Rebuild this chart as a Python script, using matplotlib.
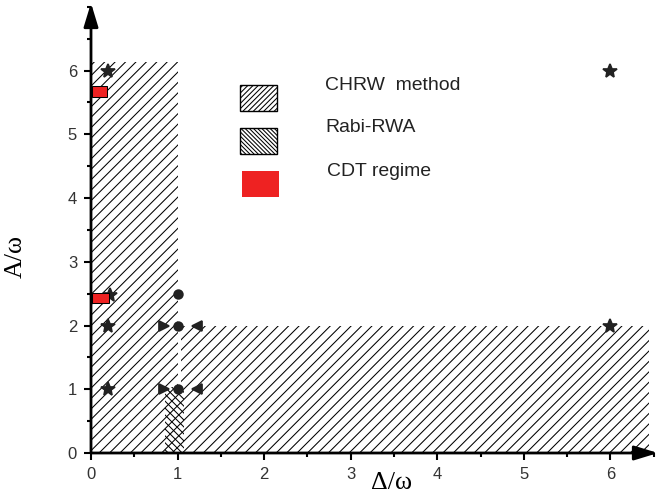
import matplotlib
matplotlib.use("Agg")
import matplotlib.pyplot as plt
from matplotlib.patches import Rectangle
from matplotlib.ticker import MultipleLocator

# regions of validity (x0, y0, x1, y1) in units of omega
chrw_regions = [(0.0, 0.0, 1.0, 6.14), (1.04, 0.0, 6.45, 2.0)]
rabi_regions = [(0.86, 0.0, 1.08, 1.03)]
cdt_regions = [(0.01, 5.59, 0.19, 5.76), (0.01, 2.36, 0.21, 2.51)]

# computed points
star_x = [0.2, 0.22, 0.2, 0.2, 6.0, 6.0]
star_y = [6.0, 2.48, 2.0, 1.0, 6.0, 2.0]
circ_x = [1.0, 1.0, 1.0]
circ_y = [2.5, 2.0, 1.0]
tri_r_x = [0.84, 0.84]
tri_r_y = [2.0, 1.0]
tri_l_x = [1.23, 1.23]
tri_l_y = [2.0, 1.0]

legend_labels = ["CHRW  method", "Rabi-RWA", "CDT regime"]

plt.rcParams["hatch.linewidth"] = 0.6
plt.rcParams["font.family"] = ["Liberation Sans", "DejaVu Sans"]
serif = ["Liberation Serif", "DejaVu Serif"]

fig = plt.figure(figsize=(657 / 125, 493 / 125), dpi=125)
ax = fig.add_axes([91 / 657, 40 / 493, 567 / 657, 450 / 493])
ax.set_xlim(0, 6.55)
ax.set_ylim(0, 7.06)

for x0, y0, x1, y1 in chrw_regions:
    ax.add_patch(Rectangle((x0, y0), x1 - x0, y1 - y0, facecolor="none",
                           edgecolor="k", lw=0, hatch="////", zorder=1))
for x0, y0, x1, y1 in rabi_regions:
    ax.add_patch(Rectangle((x0, y0), x1 - x0, y1 - y0, facecolor="white",
                           edgecolor="k", lw=0, hatch="\\" * 6, zorder=2))
    ax.add_patch(Rectangle((x0, y0), x1 - x0, y1 - y0, facecolor="none",
                           edgecolor="k", lw=0, hatch="////", zorder=2))

ax.plot(star_x, star_y, "*", color="#222222", ms=8, zorder=3)
ax.plot(circ_x, circ_y, "o", color="#222222", ms=5, zorder=4)
ax.plot(tri_r_x, tri_r_y, ">", color="#222222", ms=6, zorder=4)
ax.plot(tri_l_x, tri_l_y, "<", color="#222222", ms=6, zorder=4)

for x0, y0, x1, y1 in cdt_regions:
    ax.add_patch(Rectangle((x0, y0), x1 - x0, y1 - y0, facecolor="#ee2222",
                           edgecolor="k", lw=0.6, zorder=5))

# axes as arrows
for sp in ax.spines.values():
    sp.set_visible(False)
arrow = dict(arrowstyle="-|>,head_length=1.15,head_width=0.35", lw=1.6,
             color="k", shrinkA=0, shrinkB=0)
ax.annotate("", xy=(6.55, 0), xytext=(0, 0), arrowprops=arrow,
            annotation_clip=False, zorder=6)
ax.annotate("", xy=(0, 7.06), xytext=(0, 0), arrowprops=arrow,
            annotation_clip=False, zorder=6)

ax.set_xticks(range(0, 7))
ax.set_yticks(range(0, 7))
ax.xaxis.set_minor_locator(MultipleLocator(0.5))
ax.yaxis.set_minor_locator(MultipleLocator(0.5))
ax.tick_params(which="major", length=4, width=1.2, labelsize=9.6,
               labelcolor="#333333", pad=4)
ax.tick_params(which="minor", length=2.3, width=1.2)

ax.set_xlabel("Δ/ω", family=serif, fontsize=15, va="center")
ax.xaxis.set_label_coords((392 - 91) / 567, (453 - 483) / 450)
ax.set_ylabel("A/ω", family=serif, fontsize=15, va="center")
ax.yaxis.set_label_coords((16 - 91) / 567, (453 - 257) / 450)

# legend boxes
def fpx(x, y):
    return x / 657, 1 - y / 493

boxes = [(240, 111, "none", "/" * 8), (240, 154, "none", "\\" * 10),
         (242, 197, "#ee2222", None)]
text_y = [85, 128, 172]
text_x = [325, 325, 327]
for (bx, by, fc, h), ty, tx, lab in zip(boxes, text_y, text_x, legend_labels):
    ec = "k" if h else "none"
    fig.patches.append(Rectangle(fpx(bx, by), 37 / 657, 26 / 493,
                                 transform=fig.transFigure, facecolor=fc,
                                 edgecolor=ec, lw=0.8, hatch=h))
    fig.text(*fpx(tx, ty), lab, fontsize=11.2, color="#222222",
             va="center", ha="left")

fig.savefig("out.png", dpi=125)
